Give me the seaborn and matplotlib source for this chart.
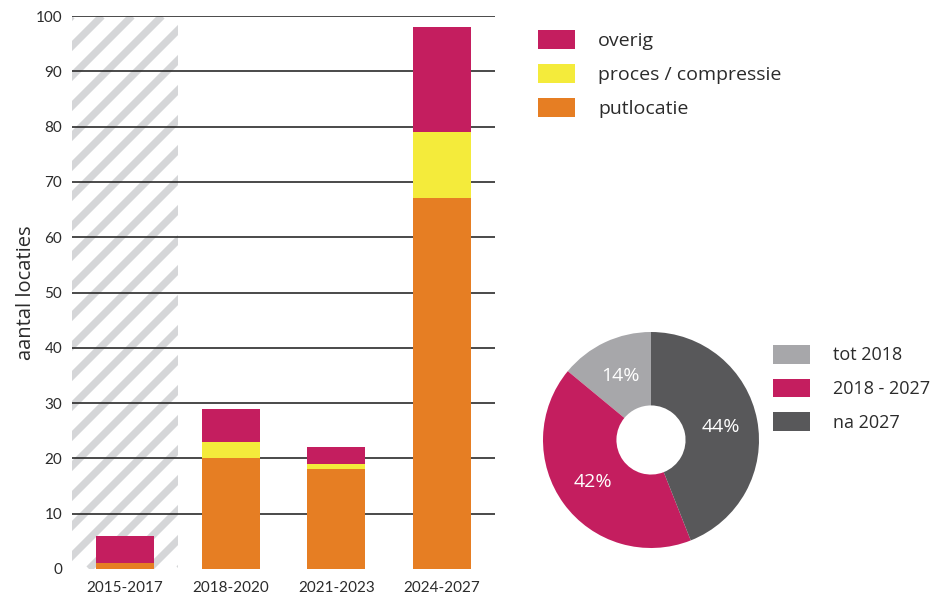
import numpy as np
import pandas as pd
import matplotlib
matplotlib.use("Agg")
import matplotlib.pyplot as plt
from matplotlib.patches import Patch, Rectangle
import seaborn as sns

# Stacked bars: number of locations per period
periods = ["2015-2017", "2018-2020", "2021-2023", "2024-2027"]
putlocatie = [1, 20, 18, 67]
proces = [0, 3, 1, 12]
overig = [5, 6, 3, 19]
stack_names = ["overig", "proces / compressie", "putlocatie"]

# Donut: share per period
pie_labels = ["tot 2018", "2018 - 2027", "na 2027"]
pie_values = [14, 42, 44]

yticks = [0, 10, 20, 30, 40, 50, 60, 70, 80, 90, 100]

C_PINK = "#C41E5F"
C_YELLOW = "#F4EB3B"
C_ORANGE = "#E67E23"
C_LIGHT = "#A7A7AA"
C_DARK = "#58585A"
C_HATCH = "#D5D6D8"
C_TEXT = "#2B2B2B"

sns.set_theme(style="white")
plt.rcParams["font.family"] = ["Lato", "DejaVu Sans"]
WIDE = ["Open Sans", "DejaVu Sans"]

FW, FH = 9.35, 5.95
fig = plt.figure(figsize=(FW, FH), dpi=100)

ax_pos = [72 / 935, 1 - 569 / 595, (495 - 72) / 935, (569 - 16) / 595]
ax = fig.add_axes(ax_pos)

df = pd.DataFrame({"periode": periods, "putlocatie": putlocatie,
                   "proces": proces, "overig": overig})
df["lvl2"] = df["putlocatie"] + df["proces"]
df["lvl3"] = df["lvl2"] + df["overig"]

for col, color in [("lvl3", C_PINK), ("lvl2", C_YELLOW), ("putlocatie", C_ORANGE)]:
    sns.barplot(data=df, x="periode", y=col, color=color, width=0.55,
                saturation=1, ax=ax, zorder=3, linewidth=0)

ax.set_xlim(-0.5, 3.5)
ax.set_ylim(0, 100)

# Diagonal stripes over the first (past) period
W = ax_pos[2] * FW * 100
H = ax_pos[3] * FH * 100
clip = Rectangle((-0.5, 0), 1, 100, transform=ax.transData, facecolor="none",
                 edgecolor="none")
ax.add_patch(clip)
step = 30
for px0 in np.arange(-H, 0.26 * W, step):
    ln, = ax.plot([px0 / W, (px0 + H) / W], [0, 1], transform=ax.transAxes,
                  color=C_HATCH, lw=5.2, solid_capstyle="butt", zorder=1)
    ln.set_clip_path(clip)

# Horizontal grid lines
ax.hlines(yticks[1:], -0.5, 3.5, colors=C_TEXT, lw=1.2, zorder=2)

ax.set_yticks(yticks)
ax.set_yticklabels([str(t) for t in yticks])
ax.tick_params(axis="both", length=0, labelsize=11, colors=C_TEXT)
ax.tick_params(axis="y", pad=7)
ax.tick_params(axis="x", pad=9)
for s in ax.spines.values():
    s.set_visible(False)
ax.set_xlabel("")
ax.set_ylabel("aantal locaties", fontsize=14.5, color=C_TEXT, labelpad=0,
              family=WIDE)

common_kw = dict(loc="upper left", frameon=False, borderpad=0,
                 borderaxespad=0, labelcolor=C_TEXT)

bar_handles = [Patch(facecolor=c, edgecolor="none") for c in (C_PINK, C_YELLOW, C_ORANGE)]
fig.legend(bar_handles, stack_names, bbox_to_anchor=(538 / 935, 1 - 30 / 595),
           prop={"family": WIDE, "size": 14}, handlelength=1.9,
           handleheight=1.13, handletextpad=1.2, labelspacing=0.71, **common_kw)

# Donut chart
cx, cy, r = 651, 440, 108
pax = fig.add_axes([(cx - r) / 935, 1 - (cy + r) / 595, 2 * r / 935, 2 * r / 595])
wedges, _, autotexts = pax.pie(
    pie_values, colors=[C_LIGHT, C_PINK, C_DARK], startangle=90,
    counterclock=True, autopct=lambda p: f"{p:.0f}%", pctdistance=0.66,
    wedgeprops=dict(width=0.68, linewidth=0),
    textprops=dict(color="white", fontsize=14, family=WIDE))
pax.set_xlim(-1, 1)
pax.set_ylim(-1, 1)
pax.set_aspect("equal")
pax.axis("off")

pie_handles = [Patch(facecolor=c, edgecolor="none") for c in (C_LIGHT, C_PINK, C_DARK)]
fig.legend(pie_handles, pie_labels, bbox_to_anchor=(773 / 935, 1 - 345 / 595),
           prop={"family": WIDE, "size": 13}, handlelength=2.05,
           handleheight=1.22, handletextpad=1.25, labelspacing=0.79, **common_kw)

fig.savefig("out.png", dpi=100)
